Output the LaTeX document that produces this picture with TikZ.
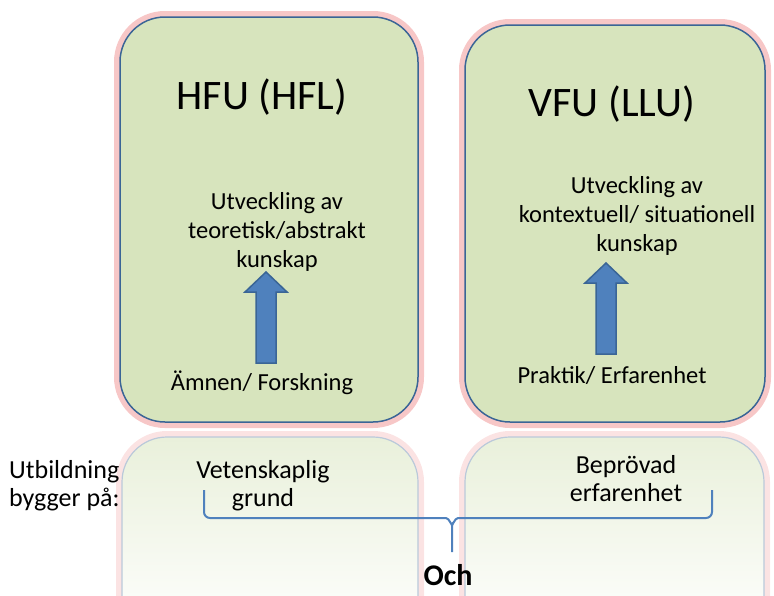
\documentclass[tikz,border=0pt]{standalone}
\usepackage{fontspec}
\setmainfont{Carlito}
\definecolor{boxg}{HTML}{D7E4BD}
\definecolor{boxb}{HTML}{3A6596}
\definecolor{glow}{HTML}{F09090}
\definecolor{arrb}{HTML}{4F81BD}
\tikzset{
 glowbox/.style={draw=glow, line width=12pt, rounded corners=45pt, opacity=0.5},
 mainbox/.style={fill=boxg, draw=boxb, line width=1.5pt, rounded corners=45pt},
 refl/.style={top color=boxg!55, bottom color=white, draw=boxb!35, line width=1.2pt, rounded corners=45pt},
 txt/.style={font=\fontsize{24.5}{29}\selectfont, align=center, inner sep=0pt},
 low/.style={font=\fontsize{26}{28}\selectfont, align=center, inner sep=0pt},
 ttl/.style={font=\fontsize{42}{46}\selectfont, inner sep=0pt},
 uparrow/.style={draw=boxb, fill=arrb, line width=1.5pt, line join=miter},
 brace/.style={draw=arrb, line width=2pt}
}
\newcommand{\myarrow}[3]{% center x, tip y, bottom y
 \path[uparrow] (#1,#2) -- ++(21,20) -- ++(-11,0) -- (#1+10,#3) -- (#1-10,#3) -- (#1-10,#2+20) -- ++(-11,0) -- cycle;}
\begin{document}
\begin{tikzpicture}[x=1pt,y=-1pt]
\useasboundingbox (0,0) rectangle (774,595);
% reflections
\draw[glowbox, opacity=0.25] (122,640) -- (122,437) -- (418,437) -- (418,640);
\draw[glowbox, opacity=0.25] (465,640) -- (465,437) -- (764,437) -- (764,640);
\path[refl] (122,640) -- (122,437) -- (418,437) -- (418,640);
\path[refl] (465,640) -- (465,437) -- (764,437) -- (764,640);
% main boxes
\draw[glowbox] (120,17) rectangle (418,422);
\draw[glowbox] (465,25) rectangle (765,422);
\path[mainbox] (120,17) rectangle (418,422);
\path[mainbox] (465,25) rectangle (765,422);
\node[ttl] (t1) at (262,97) {HFU (HFL)};
\node[ttl] (t2) at (612,104) {VFU (LLU)};
\node[txt] (u1) at (277,232) {Utveckling av\\teoretisk/abstrakt\\kunskap};
\node[txt] (u2) at (637,216) {Utveckling av\\kontextuell/ situationell\\kunskap};
\myarrow{266}{272}{363}
\myarrow{606}{263}{354}
\node[txt] (b1) at (262,383) {Ämnen/ Forskning};
\node[txt] (b2) at (612,376) {Praktik/ Erfarenhet};
% bottom
\node[low, align=left, anchor=west] (ub) at (9,486) {Utbildning\\bygger på:};
\node[low] (vg) at (263,486) {Vetenskaplig\\grund};
\node[low] (be) at (626,479) {Beprövad\\erfarenhet};
\coordinate (bl) at (204,490);
\coordinate (br) at (712,490);
\coordinate (bc) at (452,552);
\draw[brace] (bl) -- (204,512) to[out=-90,in=180] (210,518) -- (446,518) to[out=0,in=-90] (452,524) -- (bc);
\draw[brace] (br) -- (712,512) to[out=-90,in=0] (706,518) -- (458,518) to[out=180,in=-90] (452,524);
\node[txt, font=\fontsize{30}{32}\selectfont\bfseries] (och) at (448,575) {Och};
\end{tikzpicture}
\end{document}
